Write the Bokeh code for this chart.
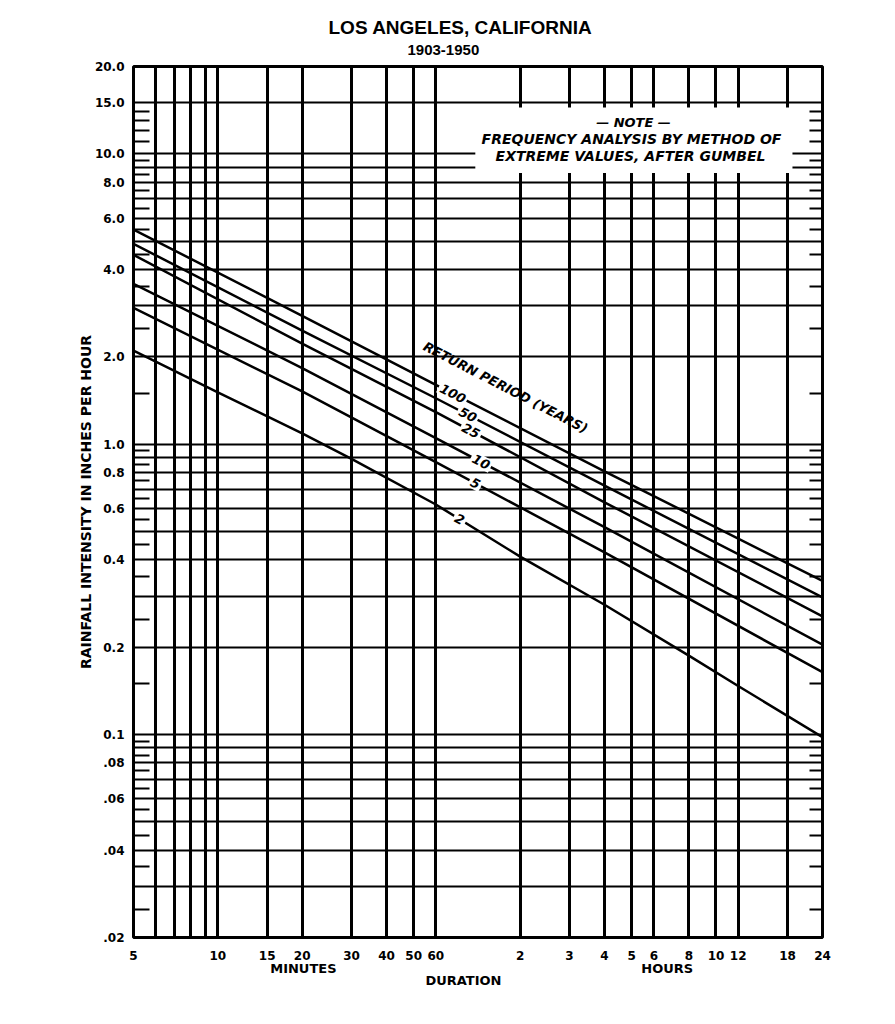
import numpy as np
from bokeh.plotting import figure
from bokeh.models import FixedTicker, LogAxis, Label, BoxAnnotation, Title
from bokeh.embed import file_html
from bokeh.resources import INLINE

TITLE = "LOS ANGELES, CALIFORNIA"
SUBTITLE = "1903-1950"
Y_TITLE = "RAINFALL INTENSITY IN INCHES PER HOUR"
NOTE_LINES = ["\u2014 NOTE \u2014", "FREQUENCY ANALYSIS BY METHOD OF", "EXTREME VALUES, AFTER GUMBEL"]

# duration in minutes, intensity in inches per hour
RETURN_PERIODS = ["100", "50", "25", "10", "5", "2"]
DUR_100 = [5, 20, 60, 240, 1440]
VAL_100 = [5.49, 2.77, 1.60, 0.807, 0.338]
DUR_50 = [5, 20, 60, 240, 1440]
VAL_50 = [4.90, 2.46, 1.44, 0.72, 0.297]
DUR_25 = [5, 20, 60, 240, 1440]
VAL_25 = [4.49, 2.22, 1.29, 0.631, 0.2555]
DUR_10 = [5, 20, 60, 240, 1440]
VAL_10 = [3.57, 1.83, 1.05, 0.518, 0.204]
DUR_5 = [5, 20, 60, 240, 1440]
VAL_5 = [2.95, 1.52, 0.868, 0.424, 0.164]
DUR_2 = [5, 10, 20, 30, 60, 120, 240, 480, 720, 1440]
VAL_2 = [2.10, 1.51, 1.09, 0.89, 0.62, 0.41, 0.280, 0.187, 0.147, 0.098]
LABEL_DUR = [69, 78, 80, 87, 83, 73]

X_TICKS = [5, 10, 15, 20, 30, 40, 50, 60, 120, 180, 240, 300, 360, 480, 600, 720, 1080, 1440]
X_TICK_LABELS = ["5", "10", "15", "20", "30", "40", "50", "60", "2", "3", "4", "5", "6", "8", "10", "12", "18", "24"]
X_GRID = [6, 7, 8, 9, 10, 15, 20, 30, 40, 50, 60, 120, 180, 240, 300, 360, 480, 600, 720, 1080]
UNIT_POS = [20.2, 402]
UNIT_LABELS = ["MINUTES", "HOURS"]
X_TITLE = "DURATION"
X_TITLE_POS = 75.3

Y_TICKS = [20, 15, 10, 8, 6, 4, 2, 1, 0.8, 0.6, 0.4, 0.2, 0.1, 0.08, 0.06, 0.04, 0.02]
Y_TICK_LABELS = ["20.0", "15.0", "10.0", "8.0", "6.0", "4.0", "2.0", "1.0", "0.8", "0.6", "0.4",
                 "0.2", "0.1", ".08", ".06", ".04", ".02"]
Y_GRID = [15, 10, 9, 8, 7, 6, 5, 4, 3, 2, 1, 0.9, 0.8, 0.7, 0.6, 0.5, 0.4, 0.3, 0.2,
          0.1, 0.09, 0.08, 0.07, 0.06, 0.05, 0.04, 0.03]
Y_MINOR = [14, 13, 12, 11, 9.5, 8.5, 7.5, 6.5, 5.5, 4.5, 3.5, 2.5, 1.5,
           0.95, 0.85, 0.75, 0.65, 0.55, 0.45, 0.35, 0.25, 0.15,
           0.095, 0.085, 0.075, 0.065, 0.055, 0.045, 0.035, 0.025]

SERIES = [(DUR_100, VAL_100), (DUR_50, VAL_50), (DUR_25, VAL_25),
          (DUR_10, VAL_10), (DUR_5, VAL_5), (DUR_2, VAL_2)]

FONT = "DejaVu Sans"

p = figure(width=890, height=1010, x_axis_type="log", y_axis_type="log",
           x_range=(5, 1440), y_range=(0.02, 20), title_location=None,
           output_backend="svg", toolbar_location=None,
           min_border_left=133, min_border_right=68, min_border_top=66, min_border_bottom=73)
p.background_fill_color = "white"
p.border_fill_color = "white"
p.outline_line_color = "black"
p.outline_line_width = 3

# titles (subtitle first = nearest the frame)
p.add_layout(Title(text=SUBTITLE, align="left", offset=274, standoff=24,
                   text_font="Liberation Sans", text_font_size="15px",
                   text_font_style="bold", text_color="black"), "above")
p.add_layout(Title(text=TITLE, align="left", offset=195, standoff=-14,
                   text_font="Liberation Sans", text_font_size="19px",
                   text_font_style="bold", text_color="black"), "above")

# grids
p.xgrid[0].ticker = FixedTicker(ticks=X_GRID)
p.xgrid[0].grid_line_color = "black"
p.xgrid[0].grid_line_width = 3
p.xgrid[0].grid_line_alpha = 1
p.ygrid[0].ticker = FixedTicker(ticks=Y_GRID)
p.ygrid[0].grid_line_color = "black"
p.ygrid[0].grid_line_width = 2
p.ygrid[0].grid_line_alpha = 1


def plain_axis(ax, size="12px"):
    ax.major_tick_in = 0
    ax.major_tick_out = 0
    ax.minor_tick_in = 0
    ax.minor_tick_out = 0
    ax.axis_line_color = None
    ax.major_label_text_font = FONT
    ax.major_label_text_font_style = "bold"
    ax.major_label_text_font_size = size
    ax.major_label_text_color = "black"


# x axis
xa = p.xaxis[0]
xa.ticker = FixedTicker(ticks=X_TICKS)
xa.major_label_overrides = {t: l for t, l in zip(X_TICKS, X_TICK_LABELS)}
plain_axis(xa)
xa.major_label_standoff = 13

# units row
ua = LogAxis(ticker=FixedTicker(ticks=UNIT_POS),
             major_label_overrides={t: l for t, l in zip(UNIT_POS, UNIT_LABELS)})
plain_axis(ua, "13px")
ua.major_label_standoff = -2
p.add_layout(ua, "below")

# duration title row
da = LogAxis(ticker=FixedTicker(ticks=[X_TITLE_POS]),
             major_label_overrides={X_TITLE_POS: X_TITLE})
plain_axis(da, "13px")
da.major_label_standoff = -6
p.add_layout(da, "below")

# left y axis
ya = p.yaxis[0]
ya.ticker = FixedTicker(ticks=Y_TICKS, minor_ticks=Y_MINOR)
ya.major_label_overrides = {t: l for t, l in zip(Y_TICKS, Y_TICK_LABELS)}
plain_axis(ya)
ya.minor_tick_in = 16
ya.minor_tick_line_width = 2
ya.minor_tick_line_color = "black"
ya.major_label_standoff = 9
ya.axis_label = Y_TITLE
ya.axis_label_text_font = FONT
ya.axis_label_text_font_style = "bold"
ya.axis_label_text_font_size = "14px"
ya.axis_label_text_color = "black"
ya.axis_label_standoff = -2

# right y axis with inner ticks only
ra = LogAxis(ticker=FixedTicker(ticks=[], minor_ticks=Y_MINOR))
plain_axis(ra)
ra.minor_tick_in = 13
ra.minor_tick_line_width = 2
ra.minor_tick_line_color = "black"
ra.major_label_text_font_size = "0px"
p.add_layout(ra, "right")

# note box (white patch interrupting the grid)
p.add_layout(BoxAnnotation(left=83, right=1125, bottom=8.6, top=14.45,
                           fill_color="white", fill_alpha=1, line_color=None))

# curves
for dur, val in SERIES:
    p.line(dur, val, line_color="black", line_width=2.5)

ANG = -0.478

# curve labels
for name, (dur, val), ld in zip(RETURN_PERIODS, SERIES, LABEL_DUR):
    ly = 10 ** np.interp(np.log10(ld), np.log10(dur), np.log10(val))
    p.add_layout(Label(x=ld, y=ly, text=name, text_font=FONT, text_font_style="bold italic",
                       text_font_size="13px", text_align="center", text_baseline="middle",
                       angle=ANG, background_fill_color="white", padding=2, text_color="black"))


def add_text(text, sx, sy, size, style="bold", angle=0.0, font=FONT):
    p.add_layout(Label(x=sx, y=sy, x_units="screen", y_units="screen", text=text,
                       text_font=font, text_font_size=f"{size}px", text_font_style=style,
                       text_align="center", text_baseline="middle", angle=angle,
                       text_color="black"))


add_text("RETURN PERIOD (YEARS)", 372, 550, 13, style="bold italic", angle=ANG)
add_text(NOTE_LINES[0], 500, 815, 13, style="bold italic")
add_text(NOTE_LINES[1], 498, 798.5, 14, style="bold italic")
add_text(NOTE_LINES[2], 497, 782, 14, style="bold italic")

open("out.html", "w").write(file_html(p, INLINE))
